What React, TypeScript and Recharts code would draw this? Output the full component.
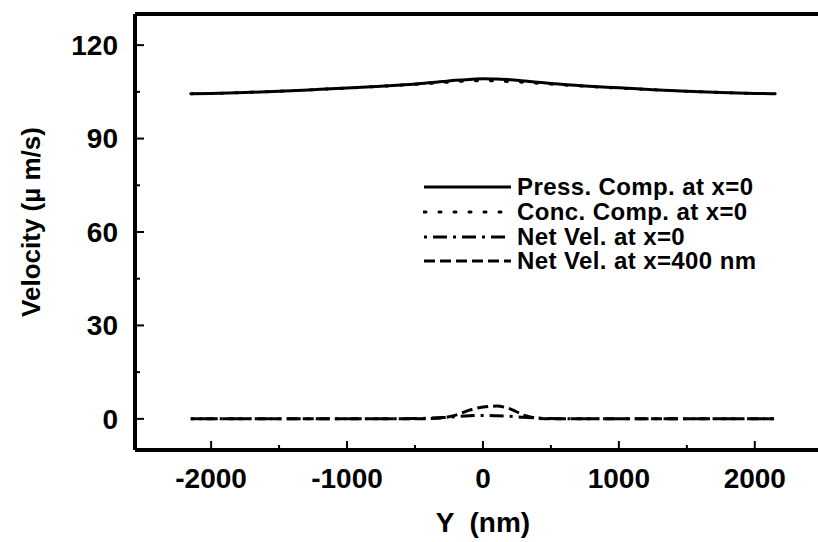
import { LineChart, Line, XAxis, YAxis, Legend, ReferenceLine } from 'recharts';

// Y position across the channel (nm)
const yPositions = [
  -2150, -2000, -1750, -1500, -1250, -1000, -750, -500, -400, -300, -200, -100, 0,
  100, 200, 300, 400, 500, 750, 1000, 1250, 1500, 1750, 2000, 2150,
];

// velocity components (µm/s)
const pressComp = [
  104.4, 104.5, 104.8, 105.2, 105.7, 106.2, 106.8, 107.5, 107.9, 108.3, 108.7, 109.0, 109.2,
  109.1, 108.9, 108.5, 108.1, 107.7, 106.9, 106.3, 105.7, 105.2, 104.8, 104.5, 104.4,
];
const concComp = [
  104.4, 104.5, 104.8, 105.2, 105.7, 106.2, 106.8, 107.4, 107.7, 108.0, 108.3, 108.5, 108.6,
  108.5, 108.3, 108.1, 107.8, 107.5, 106.8, 106.2, 105.7, 105.2, 104.8, 104.5, 104.4,
];
const netVel0 = [
  0, 0, 0, 0, 0, 0, 0, 0.1, 0.2, 0.4, 0.7, 1.0, 1.1,
  1.0, 0.8, 0.5, 0.3, 0.1, 0, 0, 0, 0, 0, 0, 0,
];
const netVel400 = [
  0, 0, 0, 0, 0, 0, 0, 0, 0.1, 0.3, 1.2, 2.8, 3.8,
  4.1, 3.2, 1.2, 0.2, 0, 0, 0, 0, 0, 0, 0, 0,
];

const seriesNames = [
  'Press. Comp. at x=0',
  'Conc. Comp. at x=0',
  'Net Vel. at x=0',
  'Net Vel. at x=400 nm',
];

const xTicks = [-2000, -1500, -1000, -500, 0, 500, 1000, 1500, 2000];
const xMajor = [-2000, -1000, 0, 1000, 2000];
const yTicks = [0, 15, 30, 45, 60, 75, 90, 105, 120];
const yMajor = [0, 30, 60, 90, 120];

const data = yPositions.map((y, i) => ({
  y,
  press: pressComp[i],
  conc: concComp[i],
  net0: netVel0[i],
  net400: netVel400[i],
}));

const FONT = '"Liberation Sans", Arial, sans-serif';

const lineStyles = [
  { key: 'press', dash: undefined, cap: 'butt' },
  { key: 'conc', dash: '2 13', cap: 'round' },
  { key: 'net0', dash: '3 6 14 6', cap: 'butt' },
  { key: 'net400', dash: '11 5', cap: 'butt' },
];

// inward tick marks, labels only on the major values
function YTick(props: any) {
  const { x, y, payload } = props;
  const major = yMajor.includes(payload.value);
  return (
    <g>
      <line x1={x} x2={x + (major ? 9 : 5)} y1={y} y2={y} stroke="#000" strokeWidth={2} />
      {major && (
        <text x={x - 17} y={y} dy="0.35em" textAnchor="end" fontFamily={FONT} fontWeight="bold" fontSize={28} fill="#000">
          {payload.value}
        </text>
      )}
    </g>
  );
}

function XTick(props: any) {
  const { x, y, payload } = props;
  const major = xMajor.includes(payload.value);
  return (
    <g>
      <line x1={x} x2={x} y1={y} y2={y - (major ? 9 : 5)} stroke="#000" strokeWidth={2} />
      {major && (
        <text x={x} y={y + 38} textAnchor="middle" fontFamily={FONT} fontWeight="bold" fontSize={28} fill="#000">
          {payload.value}
        </text>
      )}
    </g>
  );
}

function LegendBox() {
  return (
    <div style={{ fontFamily: FONT, fontWeight: 'bold', fontSize: 24, color: '#000' }}>
      {seriesNames.map((name, i) => (
        <div key={name} style={{ display: 'flex', alignItems: 'center', height: 24.7 }}>
          <svg width={90} height={10} style={{ marginRight: 4 }}>
            <line
              x1={1}
              x2={88}
              y1={5}
              y2={5}
              stroke="#000"
              strokeWidth={3}
              strokeDasharray={lineStyles[i].dash}
              strokeLinecap={lineStyles[i].cap as any}
            />
          </svg>
          <span style={{ letterSpacing: 0.4, whiteSpace: 'nowrap', lineHeight: 1 }}>{name}</span>
        </div>
      ))}
    </div>
  );
}

export default function App() {
  return (
    <div style={{ position: 'absolute', left: 0, top: 0, width: 818, height: 542, background: '#fff' }}>
      <LineChart width={818} height={542} data={data} margin={{ top: 14, right: 0, bottom: 0, left: 0 }}>
        <XAxis
          dataKey="y"
          type="number"
          domain={[-2560, 2465]}
          ticks={xTicks}
          interval={0}
          height={92}
          tickSize={0}
          tickMargin={0}
          tickLine={false}
          tick={<XTick />}
          axisLine={{ stroke: '#000', strokeWidth: 4 }}
          label={() => (
            <text
              x={483}
              y={532}
              textAnchor="middle"
              fontFamily={FONT}
              fontWeight="bold"
              fontSize={28}
              fill="#000"
              style={{ whiteSpace: 'pre' }}
            >
              {'Y  (nm)'}
            </text>
          )}
        />
        <YAxis
          type="number"
          domain={[-10, 130]}
          ticks={yTicks}
          interval={0}
          width={135}
          tickSize={0}
          tickMargin={0}
          tickLine={false}
          tick={<YTick />}
          axisLine={{ stroke: '#000', strokeWidth: 4 }}
          label={() => (
            <text
              transform="translate(31, 222) rotate(-90)"
              textAnchor="middle"
              dy="0.35em"
              fontFamily={FONT}
              fontWeight="bold"
              fontSize={26}
              fill="#000"
            >
              Velocity (µ m/s)
            </text>
          )}
        />
        <ReferenceLine y={130} stroke="#000" strokeWidth={4} />
        <Legend
          layout="vertical"
          align="center"
          verticalAlign="middle"
          content={<LegendBox />}
          wrapperStyle={{ position: 'absolute', left: 423, top: 175, width: 395 }}
        />
        {lineStyles.map((s, i) => (
          <Line
            key={s.key}
            dataKey={s.key}
            name={seriesNames[i]}
            type="monotone"
            stroke="#000"
            strokeWidth={3}
            strokeDasharray={s.dash}
            strokeLinecap={s.cap as any}
            dot={false}
            isAnimationActive={false}
          />
        ))}
      </LineChart>
    </div>
  );
}
